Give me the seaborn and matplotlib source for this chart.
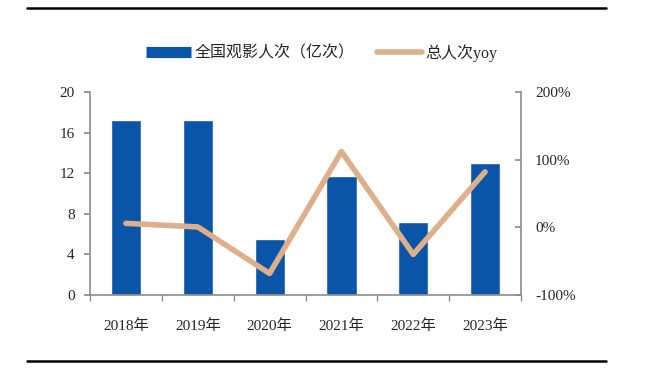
import matplotlib
matplotlib.use("Agg")
import matplotlib.pyplot as plt
import matplotlib.ticker as mticker
from matplotlib.lines import Line2D
import seaborn as sns
import numpy as np
import pandas as pd

years = ["2018年", "2019年", "2020年", "2021年", "2022年", "2023年"]
admissions = [17.2, 17.2, 5.5, 11.7, 7.2, 13.0]
yoy = [5.9, 0.6, -68.2, 112.0, -40.0, 82.0]

sns.set_theme(style="white")
plt.rcParams["font.family"] = ["Liberation Serif", "Noto Sans CJK SC"]

bar_color = "#0A55A8"
line_color = "#DDB08B"
axis_color = "#8C8C8C"

df = pd.DataFrame({"year": years, "adm": admissions, "yoy": yoy, "pos": np.arange(len(years))})

fig = plt.figure(figsize=(6.58, 3.70), dpi=100)
ax = fig.add_axes([0.1368, 0.2027, 0.655, 0.5487])
sns.barplot(data=df, x="year", y="adm", color=bar_color, width=0.42, saturation=1, ax=ax)
ax.set_xlim(-0.5, len(years) - 0.5)
ax.set_ylim(0, 20)
ax.set_yticks([0, 4, 8, 12, 16, 20])
ax.set_xlabel("")
ax.set_ylabel("")

ax2 = ax.twinx()
sns.lineplot(data=df, x="pos", y="yoy", color=line_color, linewidth=4, ax=ax2, legend=False)
ax2.set_ylim(-100, 200)
ax2.set_yticks([-100, 0, 100, 200])
ax2.yaxis.set_major_formatter(mticker.FuncFormatter(lambda v, p: f"{int(v)}%"))
ax2.set_ylabel("")
ax2.set_xlim(-0.5, len(years) - 0.5)

for a in (ax, ax2):
    a.spines["top"].set_visible(False)
ax.spines["right"].set_visible(False)
ax2.spines["left"].set_visible(False)
ax2.spines["bottom"].set_visible(False)
for sname in ("left", "bottom"):
    ax.spines[sname].set_color(axis_color)
    ax.spines[sname].set_linewidth(1.2)
ax2.spines["right"].set_color(axis_color)
ax2.spines["right"].set_linewidth(1.2)

ax.tick_params(axis="y", which="major", direction="out", length=4, color=axis_color, labelsize=11, pad=7, left=True)
ax2.tick_params(axis="y", which="major", direction="in", length=4, color=axis_color, labelsize=11, pad=10, right=True)
ax.set_xticks(np.arange(len(years)))
ax.set_xticklabels(years)
ax.tick_params(axis="x", which="major", length=0, labelsize=11, pad=17)
ax.set_xticks(np.arange(-0.5, len(years)), minor=True)
ax.tick_params(axis="x", which="minor", direction="out", length=4, color=axis_color, bottom=True)
ax.grid(False)
ax2.grid(False)

handles = [
    Line2D([0], [0], color=bar_color, linewidth=8, solid_capstyle="butt"),
    Line2D([0], [0], color=line_color, linewidth=4),
]
fig.legend(handles, ["全国观影人次（亿次）", "总人次yoy"], loc="center",
           bbox_to_anchor=(0.489, 0.857), ncol=2, frameon=False,
           handlelength=2.8, columnspacing=1.4, handletextpad=0.25,
           prop={"family": ["Liberation Serif", "Noto Sans CJK SC"], "size": 11.5})

fig.add_artist(Line2D([0.041, 0.921], [0.978, 0.978], color="black", linewidth=1.8, transform=fig.transFigure))
fig.add_artist(Line2D([0.041, 0.921], [0.024, 0.024], color="black", linewidth=1.8, transform=fig.transFigure))

fig.savefig("out.png", dpi=100)
